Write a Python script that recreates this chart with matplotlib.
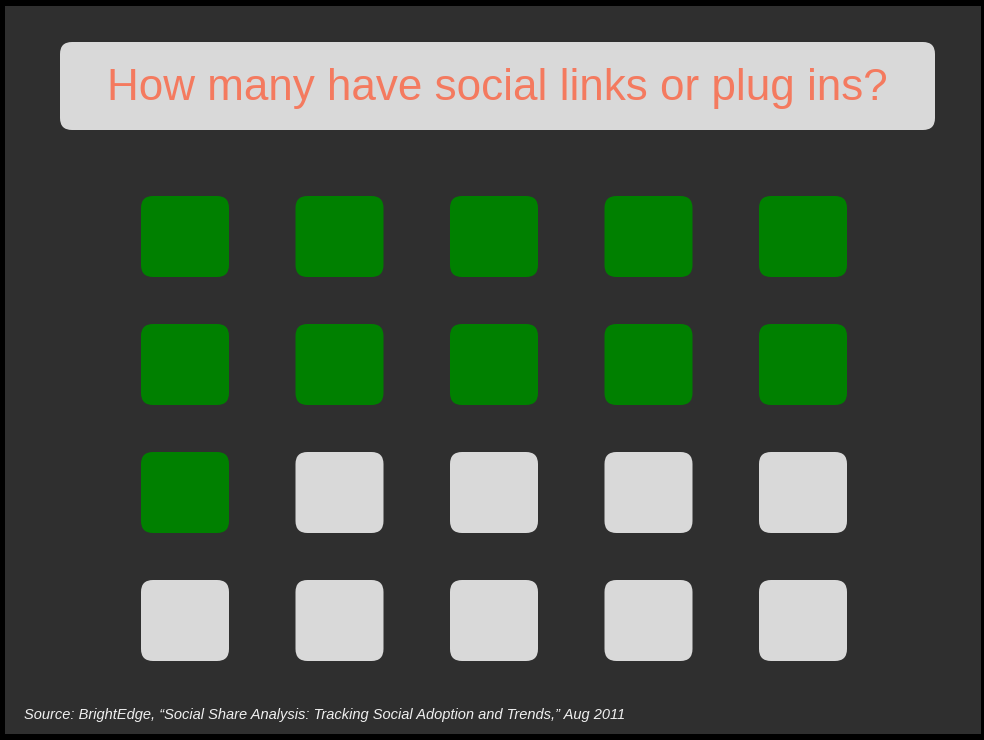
import matplotlib
matplotlib.use("Agg")
import matplotlib.pyplot as plt
from matplotlib.patches import FancyBboxPatch, Rectangle

# 数据
title = "How many have social links or plug ins?"
source = "Source: BrightEdge, \u201cSocial Share Analysis: Tracking Social Adoption and Trends,\u201d Aug 2011"
n_cols = 5
n_rows = 4
have_links = 11          # 20 个里有 11 个
total = n_cols * n_rows

# 颜色
bg = "#2f2f2f"
green = "#008000"
gray = "#d9d9d9"
salmon = "#f47a5f"

W, H = 984, 740
fig = plt.figure(figsize=(W / 100, H / 100), dpi=100, facecolor="black")
ax = fig.add_axes([0, 0, 1, 1])
ax.set_xlim(0, W)
ax.set_ylim(H, 0)
ax.axis("off")

# 背景
ax.add_patch(Rectangle((5, 6), 976, 728, facecolor=bg, edgecolor="none"))

# 标题框
ax.add_patch(FancyBboxPatch((60 + 12, 42 + 12), 875 - 24, 88 - 24,
                            boxstyle="round,pad=12", facecolor=gray, edgecolor="none"))
ax.text(497, 100, title, color=salmon, fontsize=31.7, family="Liberation Sans",
        ha="center", va="baseline")

# 方块
x0, y0 = 141, 196
dx, dy = 154.5, 128
w, h = 88, 81
r = 12
for i in range(total):
    row, col = divmod(i, n_cols)
    c = green if i < have_links else gray
    ax.add_patch(FancyBboxPatch((x0 + col * dx + r, y0 + row * dy + r), w - 2 * r, h - 2 * r,
                                boxstyle=f"round,pad={r}", facecolor=c, edgecolor="none"))

# 来源
ax.text(24, 719, source, color="#f0f0f0", fontsize=10.5, style="italic",
        family="Liberation Sans", ha="left", va="baseline")

fig.savefig("out.png", dpi=100, facecolor="black")
